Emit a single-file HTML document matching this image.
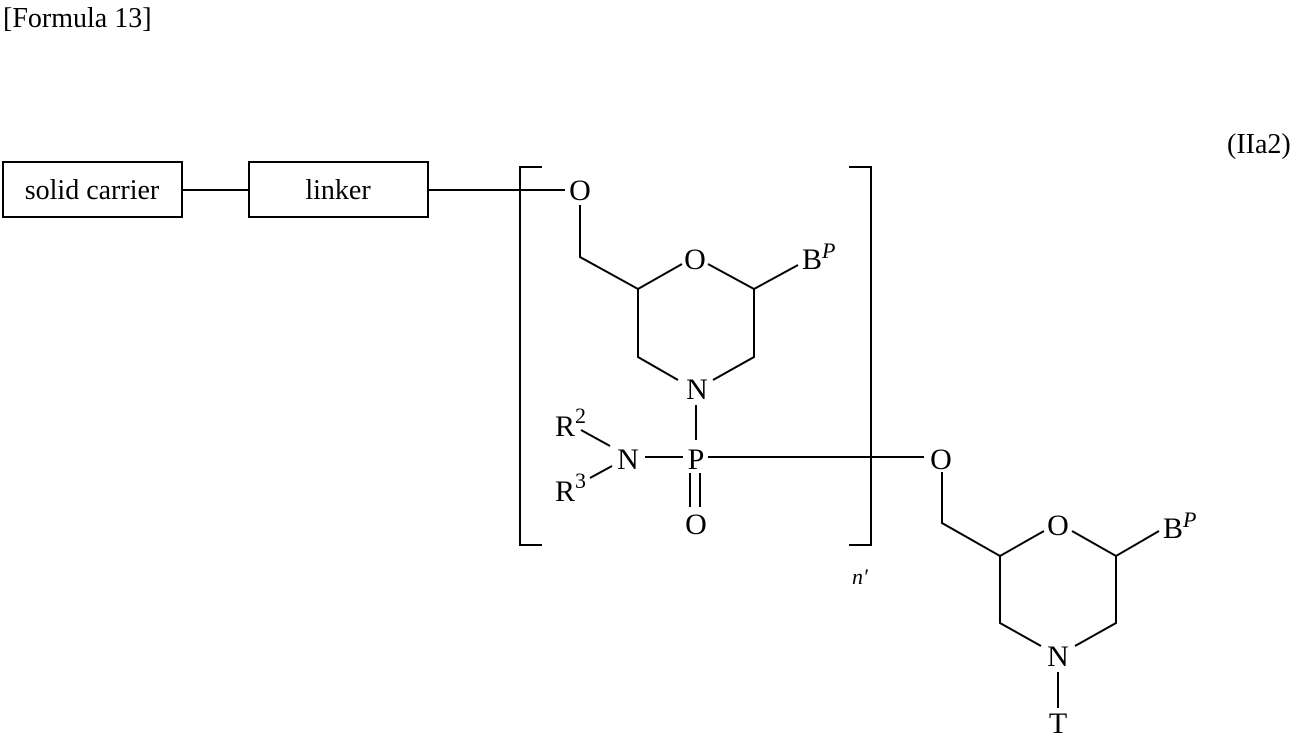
<!DOCTYPE html>
<html><head><meta charset="utf-8"><style>
html,body{margin:0;padding:0;background:#fff;}
svg{display:block;}
text{font-family:"Liberation Serif",serif;fill:#000;}
</style></head><body>
<svg width="1294" height="733" viewBox="0 0 1294 733" xmlns="http://www.w3.org/2000/svg">
<g stroke="#000" stroke-width="2" fill="none">
<rect x="3" y="162" width="179" height="55"/>
<rect x="249" y="162" width="179" height="55"/>
<line x1="182" y1="190" x2="249" y2="190"/>
<line x1="428" y1="190" x2="565" y2="190"/>
<polyline points="542,167 520,167 520,545 542,545"/>
<polyline points="849,167 871,167 871,545 849,545"/>
<polyline points="580,205 580,257 638,289 682,264"/>
<polyline points="708,264 754,289 798,265"/>
<polyline points="754,289 754,357 713,380"/>
<polyline points="638,289 638,357 678,380"/>
<line x1="696" y1="405" x2="696" y2="440"/>
<line x1="690" y1="473" x2="690" y2="507"/>
<line x1="700" y1="473" x2="700" y2="507"/>
<line x1="645" y1="457" x2="683" y2="457"/>
<line x1="581" y1="430" x2="610" y2="446"/>
<line x1="590" y1="478" x2="612" y2="466"/>
<line x1="708" y1="457" x2="924" y2="457"/>
<polyline points="942,472 942,523 1000,556 1044,531"/>
<polyline points="1072,531 1116,556 1159,531"/>
<polyline points="1000,556 1000,623 1041,646"/>
<polyline points="1116,556 1116,623 1075,646"/>
<line x1="1058" y1="672" x2="1058" y2="708"/>
</g>
<g font-size="28">
<text x="3" y="27">[Formula 13]</text>
<text x="1227" y="153">(IIa2)</text>
<text x="92" y="199" text-anchor="middle">solid carrier</text>
<text x="338" y="199" text-anchor="middle">linker</text>
</g>
<g font-size="30" text-anchor="middle">
<text x="580" y="200">O</text>
<text x="695" y="269">O</text>
<text x="697" y="399">N</text>
<text x="696" y="469">P</text>
<text x="696" y="534">O</text>
<text x="628" y="469">N</text>
<text x="941" y="469">O</text>
<text x="1058" y="535">O</text>
<text x="1058" y="666">N</text>
<text x="1058" y="733">T</text>
</g>
<g font-size="30">
<text x="802" y="269">B</text>
<text x="1163" y="538">B</text>
<text x="555" y="436">R</text>
<text x="555" y="501">R</text>
</g>
<g font-size="22">
<text x="575" y="423">2</text>
<text x="575" y="488">3</text>
<text x="822" y="258" font-style="italic">P</text>
<text x="1183" y="527" font-style="italic">P</text>
<text x="852" y="584" font-style="italic">n′</text>
</g>
</svg>
</body></html>
